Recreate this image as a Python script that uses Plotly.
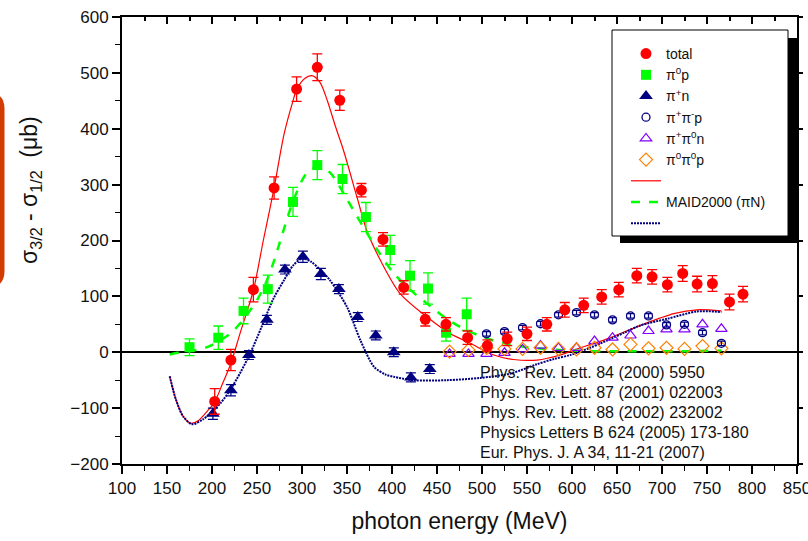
import plotly.graph_objects as go

# ---------------- data ----------------
total_E = [203, 221, 246, 269, 294, 317, 342, 366, 390, 413, 437, 460, 484, 506, 528, 550, 572,
           592, 613, 633, 652, 672, 689, 706, 723, 739, 756, 775, 790]
total_v = [-88, -14, 112, 294, 471, 510, 451, 290, 202, 116, 59, 50, 26, 12, 24, 33, 50,
           76, 84, 99, 112, 137, 135, 121, 141, 122, 123, 90, 104]
total_err = [23, 19, 22, 20, 22, 24, 18, 12, 12, 12, 12, 12, 12, 10, 12, 12, 12,
             13, 13, 13, 13, 13, 13, 13, 14, 14, 14, 14, 14]

pi0p_E = [175, 207, 235, 262, 290, 317, 345, 371, 398, 420, 440, 460, 483]
pi0p_v = [9, 26, 74, 113, 269, 335, 310, 242, 183, 137, 114, 35, 68]
pi0p_err = [15, 21, 23, 25, 26, 26, 26, 26, 26, 27, 28, 15, 29]

pipn_E = [201, 221, 241, 261, 281, 301, 321, 341, 362, 382, 402, 421, 442]
pipn_v = [-110, -68, -5, 58, 148, 171, 140, 113, 63, 30, 0, -45, -30]
pipn_err = [10, 10, 8, 8, 8, 10, 10, 8, 8, 8, 8, 8, 8]

pippimp_E = [505, 525, 545, 565, 585, 605, 625, 645, 665, 685, 705, 725, 745, 766]
pippimp_v = [33, 37, 44, 51, 67, 71, 67, 58, 65, 65, 49, 50, 35, 16]
pippimp_err = [4] * 14

pippi0n_E = [464, 485, 505, 525, 545, 565, 585, 605, 625, 645, 665, 685, 705, 725, 745, 766]
pippi0n_v = [-3, -3, -3, -1, 5, 12, 8, 8, 20, 26, 30, 38, 41, 41, 50, 42]

pi0pi0p_E = [464, 485, 505, 525, 545, 565, 585, 605, 625, 645, 665, 685, 705, 725, 745, 766]
pi0pi0p_v = [1, 4, 8, 6, 6, 8, 6, 5, 8, 5, 14, 7, 8, 6, 11, 7]

# model curves (MAID2000)
maid_tot_E = [153, 160, 168, 176, 185, 195, 203, 212, 221, 231, 246, 257, 269, 280, 290, 294, 303,
              311, 320, 328, 337, 346, 361, 372, 387, 409, 439, 465, 487, 513, 535, 561, 587,
              602, 639, 676, 713, 739, 766]
maid_tot_v = [-43, -85, -115, -127, -122, -105, -89, -55, -20, 33, 111, 200, 294, 390, 450, 470, 490,
              495, 483, 451, 405, 362, 278, 218, 165, 105, 63, 33, 16, -5, -13, -14, -5,
              4, 24, 48, 69, 76, 74]

maid_pi0p_E = [153, 165, 183, 196, 209, 220, 231, 240, 250, 260, 268, 276, 290, 305, 320, 332, 342,
               355, 369, 385, 402, 420, 439, 458, 476, 495, 513, 530, 550, 570, 587, 620, 680, 730, 766]
maid_pi0p_v = [-4, 0, 4, 10, 21, 33, 51, 70, 93, 125, 159, 200, 270, 320, 333, 320, 296,
               260, 222, 180, 141, 112, 87, 63, 45, 31, 21, 14, 9, 6, 4, 2, 2, 2, 3]

maid_pipn_E = [153, 160, 168, 178, 190, 201, 210, 220, 232, 243, 255, 268, 280, 290, 300, 310, 320,
               331, 350, 365, 380, 393, 402, 424, 461, 498, 532, 560, 580, 598, 620, 639, 658,
               676, 706, 739, 766]
maid_pipn_v = [-43, -85, -115, -129, -120, -105, -90, -68, -35, 0, 45, 95, 129, 155, 168, 162, 148,
               129, 81, 21, -26, -40, -44, -50, -50, -46, -38, -22, -12, -5, 8, 21, 35,
               48, 60, 73, 72]

refs = ["Phys. Rev. Lett. 84 (2000) 5950",
        "Phys. Rev. Lett. 87 (2001) 022003",
        "Phys. Rev. Lett. 88 (2002) 232002",
        "Physics Letters B 624 (2005) 173-180",
        "Eur. Phys. J. A 34, 11-21 (2007)"]

# ---------------- layout helpers ----------------
W, H = 808, 541
L, R, T, B = 122, 797, 17, 464
FONT = "Liberation Sans, Arial, sans-serif"


def px(x):
    return (x - L) / (R - L)


def py(y):
    return (B - y) / (B - T)


RED = "#FF0000"
GREEN = "#00FF00"
NAVY = "#000080"
PURPLE = "#8000FF"
ORANGE = "#FF8000"

fig = go.Figure()

# model curves
fig.add_trace(go.Scatter(x=maid_tot_E, y=maid_tot_v, mode="lines", name="\u2007",
                         line=dict(color=RED, width=1.2, shape="spline", smoothing=0.8)))
fig.add_trace(go.Scatter(x=maid_pi0p_E, y=maid_pi0p_v, mode="lines", name="MAID2000 (πN)",
                         line=dict(color=GREEN, width=2.5, dash="dash", shape="spline", smoothing=0.8)))
fig.add_trace(go.Scatter(x=maid_pipn_E, y=maid_pipn_v, mode="lines", name="\u2007\u2007",
                         line=dict(color=NAVY, width=2, dash="2px,1px", shape="spline", smoothing=0.8)))

# data points
fig.add_trace(go.Scatter(x=pippi0n_E, y=pippi0n_v, mode="markers", name="π<sup>+</sup>π<sup>0</sup>n",
                         marker=dict(symbol="triangle-up-open", size=10, color=PURPLE, line=dict(width=1.2))))
fig.add_trace(go.Scatter(x=pi0pi0p_E, y=pi0pi0p_v, mode="markers", name="π<sup>0</sup>π<sup>0</sup>p",
                         marker=dict(symbol="diamond-open", size=10, color=ORANGE, line=dict(width=1.2))))
fig.add_trace(go.Scatter(x=pippimp_E, y=pippimp_v, mode="markers", name="π<sup>+</sup>π<sup>-</sup>p",
                         marker=dict(symbol="circle-open", size=8, color=NAVY, line=dict(width=1.3)),
                         error_y=dict(type="data", array=pippimp_err, color=NAVY, thickness=1.2, width=4)))
fig.add_trace(go.Scatter(x=pipn_E, y=pipn_v, mode="markers", name="π<sup>+</sup>n",
                         marker=dict(symbol="triangle-up", size=12, color=NAVY),
                         error_y=dict(type="data", array=pipn_err, color=NAVY, thickness=1.2, width=5)))
fig.add_trace(go.Scatter(x=pi0p_E, y=pi0p_v, mode="markers", name="π<sup>0</sup>p",
                         marker=dict(symbol="square", size=10, color=GREEN),
                         error_y=dict(type="data", array=pi0p_err, color=GREEN, thickness=1.3, width=5)))
fig.add_trace(go.Scatter(x=total_E, y=total_v, mode="markers", name="total",
                         marker=dict(symbol="circle", size=11, color=RED),
                         error_y=dict(type="data", array=total_err, color=RED, thickness=1.3, width=5)))

# legend order as in reference
order = ["total", "π<sup>0</sup>p", "π<sup>+</sup>n", "π<sup>+</sup>π<sup>-</sup>p",
         "π<sup>+</sup>π<sup>0</sup>n", "π<sup>0</sup>π<sup>0</sup>p", "\u2007", "MAID2000 (πN)", "\u2007\u2007"]
for tr in fig.data:
    tr.legendrank = order.index(tr.name) + 1

# reference text
ann = []
for i, t in enumerate(refs):
    ann.append(dict(x=px(478), y=py(372 + i * 20.2), xref="paper", yref="paper", text=t,
                    showarrow=False, xanchor="left", yanchor="middle",
                    font=dict(family=FONT, size=16, color="#111111")))
# y title
ann.append(dict(x=px(31), y=py(190), xref="paper", yref="paper",
                text="σ<sub>3/2</sub> - σ<sub>1/2</sub>  (μb)", textangle=-90, showarrow=False,
                xanchor="center", yanchor="middle", font=dict(family=FONT, size=23, color="#111111")))

shapes = []
# legend shadow and box
shapes.append(dict(type="rect", xref="paper", yref="paper", x0=px(620), x1=px(797), y0=py(243), y1=py(38),
                   fillcolor="black", line=dict(width=0), layer="above"))
shapes.append(dict(type="rect", xref="paper", yref="paper", x0=px(612), x1=px(788), y0=py(236), y1=py(30),
                   fillcolor="white", line=dict(color="black", width=1), layer="above"))
# orange rounded frame at left edge
xr, rr, yt, yb = 2, 14, 95, 285
path = (f"M {px(-20)},{py(yt)} L {px(xr - rr)},{py(yt)} Q {px(xr)},{py(yt)} {px(xr)},{py(yt + rr)} "
        f"L {px(xr)},{py(yb - rr)} Q {px(xr)},{py(yb)} {px(xr - rr)},{py(yb)} L {px(-20)},{py(yb)}")
shapes.append(dict(type="path", xref="paper", yref="paper", path=path,
                   line=dict(color="#D23C00", width=5), layer="above"))

fig.update_layout(
    width=W, height=H,
    margin=dict(l=L, r=W - R, t=T, b=H - B, pad=0, autoexpand=False),
    paper_bgcolor="white", plot_bgcolor="white",
    font=dict(family=FONT, color="#111111"),
    showlegend=True,
    legend=dict(x=px(626), y=py(38), xanchor="left", yanchor="top", bgcolor="rgba(0,0,0,0)",
                borderwidth=0, font=dict(family=FONT, size=14, color="#111111"),
                tracegroupgap=0, itemwidth=30),
    annotations=ann, shapes=shapes,
    xaxis=dict(range=[100, 850], tickmode="linear", tick0=100, dtick=50, ticks="outside",
               ticklen=8, tickwidth=1.5, tickcolor="black", showline=True, linecolor="black",
               linewidth=2, showgrid=False, zeroline=False, ticklabeloverflow="allow",
               tickfont=dict(family=FONT, size=17, color="#111111"),
               minor=dict(dtick=25, ticks="outside", ticklen=5, tickwidth=1.2, tickcolor="black"),
               title=dict(text="photon energy (MeV)", font=dict(family=FONT, size=23, color="#111111"),
                          standoff=15)),
    yaxis=dict(range=[-200, 600], tickmode="linear", tick0=-200, dtick=100, ticks="outside",
               ticklen=8, tickwidth=1.5, tickcolor="black", showline=True, linecolor="black",
               linewidth=2, showgrid=False, zeroline=True, zerolinecolor="black", zerolinewidth=2,
               ticklabeloverflow="allow",
               tickfont=dict(family=FONT, size=17, color="#111111"),
               minor=dict(dtick=50, ticks="outside", ticklen=5, tickwidth=1.2, tickcolor="black")),
    xaxis2=dict(overlaying="x", side="top", matches="x", range=[100, 850], tickmode="linear",
                tick0=100, dtick=50, ticks="inside", ticklen=7, tickwidth=1.5, tickcolor="black",
                showticklabels=False, showline=True, linecolor="black", linewidth=2, showgrid=False,
                zeroline=False, minor=dict(dtick=25, ticks="inside", ticklen=4, tickcolor="black")),
    yaxis2=dict(overlaying="y", side="right", matches="y", range=[-200, 600], tickmode="linear",
                tick0=-200, dtick=100, ticks="outside", ticklen=4, tickwidth=1.5, tickcolor="black",
                showticklabels=False, showline=True, linecolor="black", linewidth=2, showgrid=False,
                zeroline=False),
)
# invisible trace to activate the mirror axes
fig.add_trace(go.Scatter(x=[None], y=[None], xaxis="x2", yaxis="y2", showlegend=False, hoverinfo="skip"))

fig.write_html("out.html", config={"displayModeBar": False},
               post_script="document.body.style.margin='0';")
